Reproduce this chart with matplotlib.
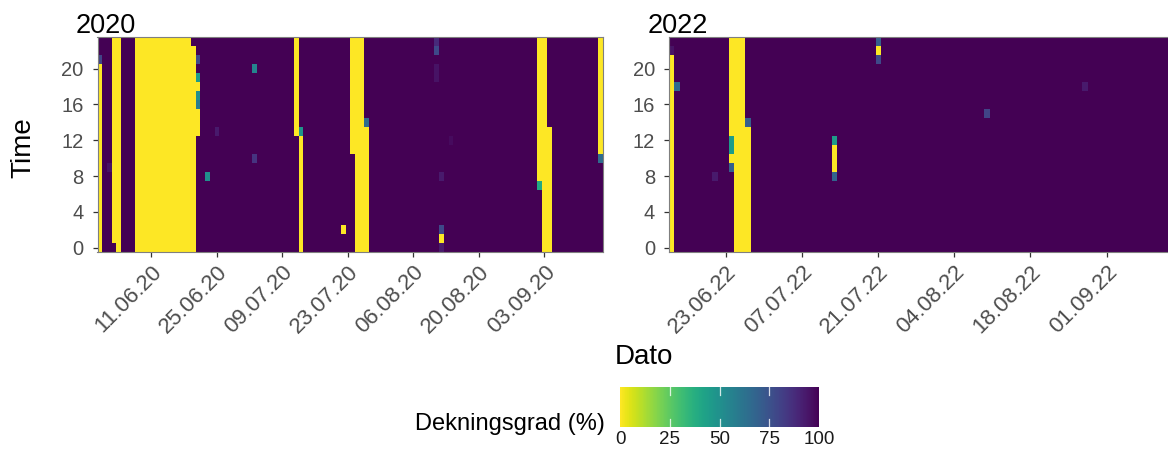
import matplotlib.pyplot as plt
import matplotlib.dates as mdates
import numpy as np
import pandas as pd

plt.rcParams['font.family'] = ['Liberation Sans', 'DejaVu Sans']

# first and last day of each season
DAYS_2020 = ("2020-05-31", "2020-09-15")
DAYS_2022 = ("2022-06-13", "2022-09-13")

# hours below full coverage: (date, first hour, last hour, coverage %)
GAPS_2020 = [
    ("2020-05-31", 0, 20, 0), ("2020-05-31", 21, 21, 80),
    ("2020-06-02", 9, 9, 95),
    ("2020-06-03", 1, 23, 0),
    ("2020-06-04", 0, 23, 0),
    ("2020-06-08", 0, 23, 0), ("2020-06-09", 0, 23, 0), ("2020-06-10", 0, 23, 0),
    ("2020-06-11", 0, 23, 0), ("2020-06-12", 0, 23, 0), ("2020-06-13", 0, 23, 0),
    ("2020-06-14", 0, 23, 0), ("2020-06-15", 0, 23, 0), ("2020-06-16", 0, 23, 0),
    ("2020-06-17", 0, 23, 0), ("2020-06-18", 0, 23, 0), ("2020-06-19", 0, 23, 0),
    ("2020-06-20", 0, 22, 0),
    ("2020-06-21", 13, 15, 0), ("2020-06-21", 16, 16, 58), ("2020-06-21", 17, 17, 50),
    ("2020-06-21", 18, 18, 0), ("2020-06-21", 19, 19, 45), ("2020-06-21", 21, 21, 78),
    ("2020-06-23", 8, 8, 50),
    ("2020-06-25", 13, 13, 93),
    ("2020-07-03", 10, 10, 85), ("2020-07-03", 20, 20, 55),
    ("2020-07-12", 13, 23, 0),
    ("2020-07-13", 0, 12, 0), ("2020-07-13", 13, 13, 48),
    ("2020-07-22", 2, 2, 0),
    ("2020-07-24", 11, 23, 0),
    ("2020-07-25", 0, 23, 0), ("2020-07-26", 0, 23, 0),
    ("2020-07-27", 0, 13, 0), ("2020-07-27", 14, 14, 65),
    ("2020-08-11", 19, 20, 95), ("2020-08-11", 22, 22, 78), ("2020-08-11", 23, 23, 88),
    ("2020-08-12", 0, 0, 93), ("2020-08-12", 1, 1, 0), ("2020-08-12", 2, 2, 78),
    ("2020-08-12", 8, 8, 93),
    ("2020-08-14", 12, 12, 97),
    ("2020-09-02", 7, 7, 40), ("2020-09-02", 8, 23, 0),
    ("2020-09-03", 0, 23, 0),
    ("2020-09-04", 0, 13, 0),
    ("2020-09-15", 10, 10, 65), ("2020-09-15", 11, 23, 0),
]

GAPS_2022 = [
    ("2022-06-13", 0, 21, 0), ("2022-06-13", 22, 22, 95),
    ("2022-06-14", 18, 18, 65),
    ("2022-06-21", 8, 8, 93),
    ("2022-06-24", 9, 9, 70), ("2022-06-24", 10, 10, 0), ("2022-06-24", 11, 12, 45),
    ("2022-06-24", 13, 23, 0),
    ("2022-06-25", 0, 23, 0), ("2022-06-26", 0, 23, 0),
    ("2022-06-27", 0, 13, 0), ("2022-06-27", 14, 14, 70),
    ("2022-07-13", 8, 8, 68), ("2022-07-13", 9, 11, 0), ("2022-07-13", 12, 12, 45),
    ("2022-07-21", 21, 21, 78), ("2022-07-21", 22, 22, 0), ("2022-07-21", 23, 23, 70),
    ("2022-08-10", 15, 15, 80),
    ("2022-08-28", 18, 18, 93),
]

TICKS_2020 = ["2020-06-11", "2020-06-25", "2020-07-09", "2020-07-23",
              "2020-08-06", "2020-08-20", "2020-09-03"]
TICKS_2022 = ["2022-06-23", "2022-07-07", "2022-07-21", "2022-08-04",
              "2022-08-18", "2022-09-01"]
HOUR_TICKS = [0, 4, 8, 12, 16, 20]
LEGEND_TICKS = [0, 25, 50, 75, 100]


def coverage_grid(span, gaps):
    days = pd.date_range(span[0], span[1], freq="D")
    grid = np.full((24, len(days)), 100.0)
    for day, h0, h1, val in gaps:
        col = days.get_loc(pd.Timestamp(day))
        grid[h0:h1 + 1, col] = val
    return days, grid


W, H = 1168, 459
fig = plt.figure(figsize=(W / 100, H / 100), dpi=100)

panels = [
    ("2020", DAYS_2020, GAPS_2020, TICKS_2020, 97.5),
    ("2022", DAYS_2022, GAPS_2022, TICKS_2022, 669.0),
]

for title, span, gaps, ticks, left in panels:
    ax = fig.add_axes([left / W, 1 - 252.3 / H, 505.5 / W, 215 / H])
    days, grid = coverage_grid(span, gaps)
    x = mdates.date2num(days)
    x_edges = np.append(x - 0.5, x[-1] + 0.5)
    y_edges = np.arange(25) - 0.5
    mesh = ax.pcolormesh(x_edges, y_edges, grid, cmap="viridis_r",
                         vmin=0, vmax=100)
    ax.set_xlim(x_edges[0], x_edges[-1])
    ax.set_ylim(-0.5, 23.5)
    ax.set_xticks(mdates.date2num(pd.to_datetime(ticks)))
    ax.xaxis.set_major_formatter(mdates.DateFormatter("%d.%m.%y"))
    ax.set_yticks(HOUR_TICKS)
    ax.tick_params(length=3.4, width=0.9, color="#333333", labelcolor="#4d4d4d")
    ax.tick_params(axis="y", labelsize=14.5, pad=6.5)
    ax.tick_params(axis="x", labelsize=16, pad=3)
    for lab in ax.get_xticklabels():
        lab.set_rotation(45)
        lab.set_ha("right")
        lab.set_va("top")
        lab.set_rotation_mode("anchor")
    for sp in ax.spines.values():
        sp.set_color("#7f7f7f")
        sp.set_linewidth(0.8)
    fig.text((left - 21.5) / W, 1 - 33.3 / H, title, fontsize=19.5,
             ha="left", va="baseline")

fig.text(23 / W, 1 - 148 / H, "Time", fontsize=20, rotation=90,
         ha="center", va="center")
fig.text(644 / W, 1 - 357 / H, "Dato", fontsize=20, ha="center", va="center")

# colour legend
cax = fig.add_axes([620 / W, 1 - 427 / H, 199 / W, 40 / H])
cb = fig.colorbar(mesh, cax=cax, orientation="horizontal")
cb.outline.set_visible(False)
cb.set_ticks(LEGEND_TICKS)
cax.tick_params(length=0, labelsize=13.5, labelcolor="#1a1a1a", pad=3)
trans = cax.get_xaxis_transform()
for t in LEGEND_TICKS[1:-1]:
    cax.plot([t, t], [0, 0.2], color="white", lw=0.9, alpha=0.8, transform=trans)
    cax.plot([t, t], [0.8, 1], color="white", lw=0.9, alpha=0.8, transform=trans)
fig.text(605 / W, 1 - 424 / H, "Dekningsgrad (%)", fontsize=17,
         ha="right", va="center")

fig.savefig("out.png", dpi=100)
